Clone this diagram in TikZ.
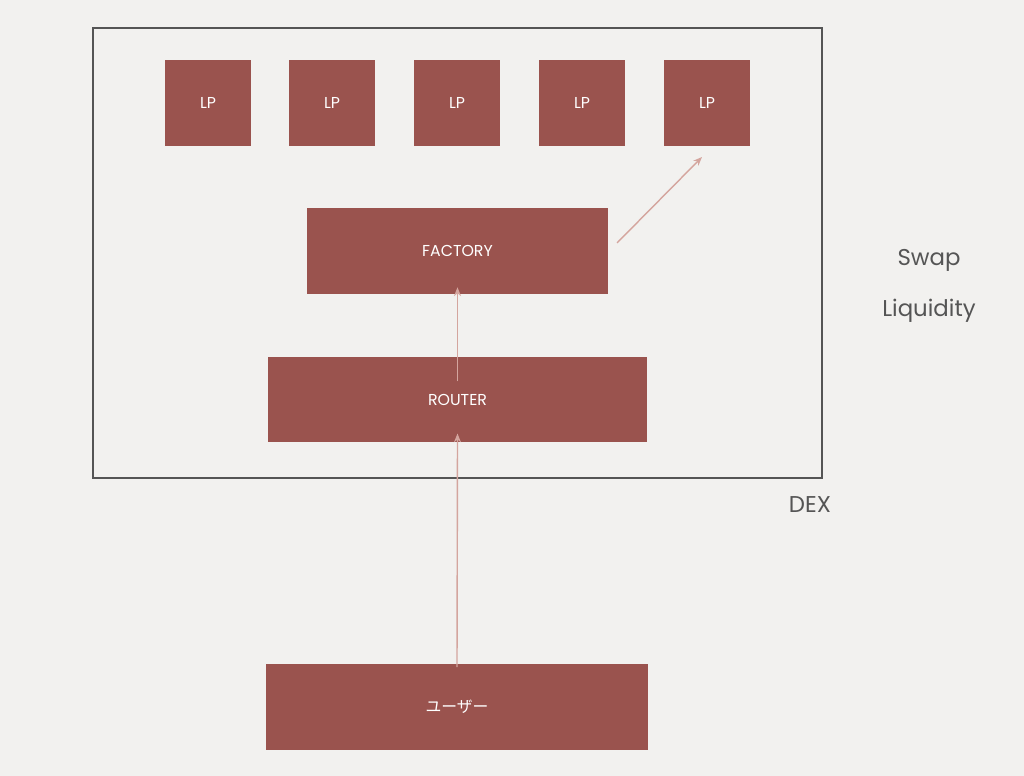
\documentclass[tikz,border=0pt]{standalone}
\usepackage{fontspec}
\setmainfont{Poppins}
\newfontfamily\cjk{Noto Sans CJK JP}
\usetikzlibrary{positioning,arrows.meta}
\definecolor{boxred}{HTML}{9A534E}
\definecolor{arrowpink}{HTML}{D4A59E}
\definecolor{paper}{HTML}{F2F1EF}
\definecolor{framegray}{HTML}{555555}
\tikzset{
  block/.style={fill=boxred, text=white, font=\fontsize{9}{11}\selectfont, inner sep=0pt},
  lpbox/.style={block, minimum width=1.72cm, minimum height=1.72cm},
  flow/.style={arrowpink, line width=0.8pt, -{Stealth[length=5pt,width=4pt]}},
  side/.style={text=framegray, font=\fontsize{13}{15}\selectfont}
}
\begin{document}
\begin{tikzpicture}[x=0.02cm, y=-0.02cm]
    \fill[paper] (0,0) rectangle (1024,776);
    \useasboundingbox (0,0) rectangle (1024,776);

    \draw[framegray, line width=1.3pt] (93,28) rectangle (822,478);

    \foreach \i/\x in {1/208,2/332,3/457,4/582,5/707}
        \node[lpbox] (lp\i) at (\x,103) {LP};

    \node[block, minimum width=6.02cm, minimum height=1.72cm] (factory) at (457.5,251) {FACTORY};
    \node[block, minimum width=7.58cm, minimum height=1.7cm] (router) at (457.5,399.5) {ROUTER};
    \node[block, minimum width=7.64cm, minimum height=1.72cm] (user) at (457,707) {\cjk ユーザー};

    \coordinate (ftail) at (617,243);
    \coordinate (fhead) at (702,157);

    \draw[flow] ([yshift=-2pt]user.north) -- ([yshift=5pt]router.south);
    \draw[flow] ([yshift=-14pt]router.north) -- ([yshift=4pt]factory.south);
    \draw[flow] (ftail) -- (fhead);

    \node[side] (swap) at (929,260) {Swap};
    \node[side] (liq) at (929,311) {Liquidity};
    \node[side] (dex) at (810,505) {DEX};
\end{tikzpicture}
\end{document}
